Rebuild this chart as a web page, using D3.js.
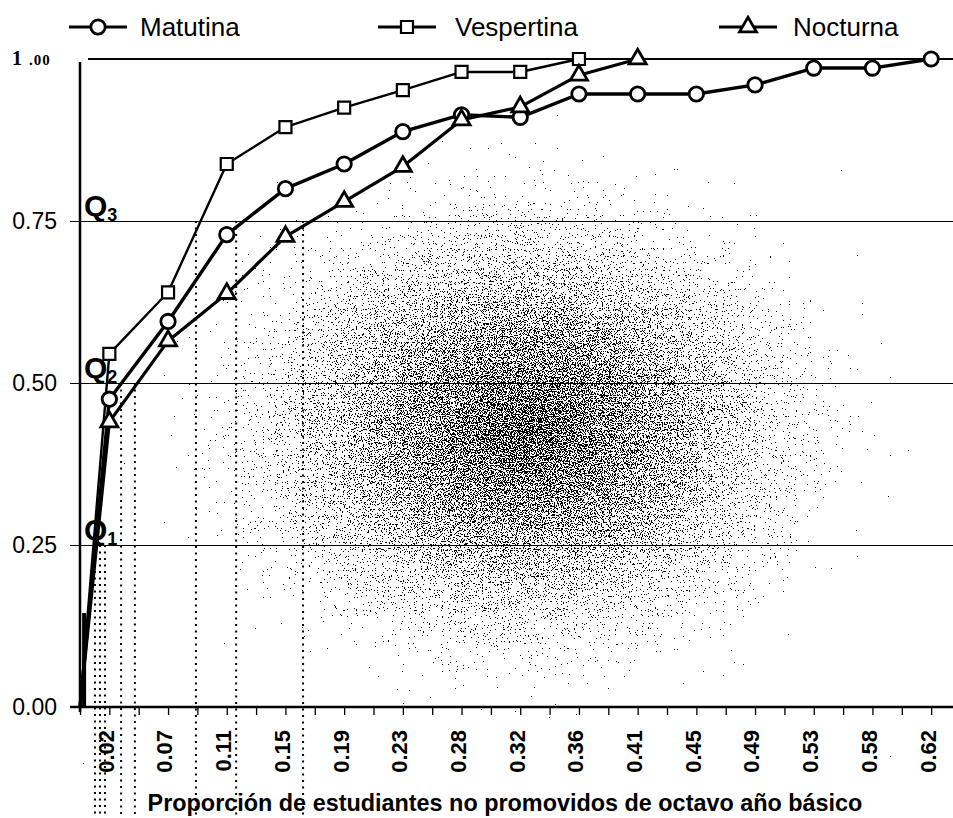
<!DOCTYPE html>
<html>
<head>
<meta charset="utf-8">
<script src="https://cdn.jsdelivr.net/npm/d3@7"></script>
<style>
  html, body { margin: 0; padding: 0; background: #fff; }
  svg { display: block; }
  text { font-family: "Liberation Sans", Arial, sans-serif; }
</style>
</head>
<body>
<div id="chart"></div>
<script>
// ---------- DATA ----------
const xLabels = ["0.02","0.07","0.11","0.15","0.19","0.23","0.28","0.32","0.36","0.41","0.45","0.49","0.53","0.58","0.62"];
// first value = origin (0), then one value per x label
const matutina   = [0, 0.475, 0.595, 0.729, 0.80, 0.838, 0.888, 0.914, 0.91, 0.946, 0.946, 0.946, 0.96, 0.986, 0.986, 1.0];
const vespertina = [0, 0.545, 0.64, 0.838, 0.895, 0.925, 0.952, 0.98, 0.98, 1.0];
const nocturna   = [0, 0.44, 0.565, 0.638, 0.726, 0.78, 0.834, 0.906, 0.926, 0.975, 1.0];
const seriesNames = ["Matutina", "Vespertina", "Nocturna"];
const yTicks = [0, 0.25, 0.5, 0.75, 1.0];
const yTickLabels = ["0.00", "0.25", "0.50", "0.75", "1 .00"];
// quartile reference lines (positions in x-tick units) and their levels
const quartileLevels = [0.25, 0.5, 0.75];
const quartileNames = ["1", "2", "3"];
const q1X = [0.51, 0.68, 0.85];
const q2X = [1.40, 1.87];
const q3X = [3.95, 5.32, 7.6];

// ---------- LAYOUT ----------
const W = 953, H = 818;
const svg = d3.select("#chart").append("svg").attr("width", W).attr("height", H);
svg.append("rect").attr("width", W).attr("height", H).attr("fill", "#fff");

const x = d3.scaleLinear().domain([0, 30]).range([80, 80 + 30 * 29.35]);
const y = d3.scaleLinear().domain([0, 1]).range([707, 59]);
const idx = k => (k === 0 ? 0 : 2 * k - 1);

// stippled background shading (scanned paper)
const defs = svg.append("defs");
const rg = defs.append("radialGradient").attr("id", "shade")
  .attr("cx", 0.5).attr("cy", 0.5).attr("r", 0.5);
[[0, 1], [0.3, 0.8], [0.6, 0.5], [0.85, 0.2], [1, 0]].forEach(([o, a]) => {
  rg.append("stop").attr("offset", o).attr("stop-color", "#000").attr("stop-opacity", a);
});
const f = defs.append("filter").attr("id", "stip")
  .attr("filterUnits", "userSpaceOnUse").attr("x", 0).attr("y", 0).attr("width", W).attr("height", H)
  .attr("color-interpolation-filters", "sRGB");
f.append("feTurbulence").attr("type", "fractalNoise").attr("baseFrequency", 0.85)
  .attr("numOctaves", 2).attr("seed", 7).attr("result", "n");
f.append("feColorMatrix").attr("in", "n").attr("type", "matrix")
  .attr("values", "0 0 0 0 0  0 0 0 0 0  0 0 0 0 0  1 0 0 0 0").attr("result", "na");
f.append("feComposite").attr("in", "SourceAlpha").attr("in2", "na").attr("operator", "arithmetic")
  .attr("k1", 0).attr("k2", 0.45).attr("k3", 1).attr("k4", -0.41).attr("result", "c");
const ct = f.append("feComponentTransfer").attr("in", "c");
ct.append("feFuncA").attr("type", "discrete").attr("tableValues", "0 1");
svg.append("ellipse").attr("cx", 525).attr("cy", 430).attr("rx", 420).attr("ry", 330)
  .attr("fill", "url(#shade)").attr("filter", "url(#stip)");

// grid lines
const grid = svg.append("g").attr("shape-rendering", "crispEdges");
[0.25, 0.5, 0.75].forEach(v => {
  grid.append("line").attr("x1", 70).attr("x2", W).attr("y1", Math.round(y(v)) + 0.5).attr("y2", Math.round(y(v)) + 0.5)
    .attr("stroke", "#000").attr("stroke-width", 1);
});
grid.append("line").attr("x1", 88).attr("x2", W).attr("y1", y(1)).attr("y2", y(1))
  .attr("stroke", "#000").attr("stroke-width", 2);

// quartile dotted verticals
const dot = svg.append("g").attr("stroke", "#000").attr("stroke-width", 2)
  .attr("stroke-dasharray", "2,4.5").attr("fill", "none");
[[q1X, 0.25], [q2X, 0.5], [q3X, 0.75]].forEach(([arr, lv]) => {
  arr.forEach(v => {
    dot.append("line").attr("x1", x(v)).attr("x2", x(v)).attr("y1", y(lv)).attr("y2", H);
  });
});

// axes
svg.append("line").attr("x1", 80).attr("x2", 80).attr("y1", 62).attr("y2", 712)
  .attr("stroke", "#000").attr("stroke-width", 2.5);
svg.append("line").attr("x1", 70).attr("x2", W).attr("y1", y(0)).attr("y2", y(0))
  .attr("stroke", "#000").attr("stroke-width", 2.6);

const xAxis = d3.axisBottom(x)
  .tickValues(d3.range(0, 30))
  .tickSize(8)
  .tickFormat(i => (i % 2 === 1 ? xLabels[(i - 1) / 2] : ""));
const gx = svg.append("g").attr("transform", `translate(0,${y(0)})`).call(xAxis)
  .attr("font-size", null).attr("font-family", null);
gx.select(".domain").remove();
gx.selectAll(".tick line").attr("stroke", "#000").attr("stroke-width", 1.3);
gx.selectAll(".tick text")
  .attr("transform", "rotate(-90)")
  .attr("text-anchor", "end")
  .attr("x", -23).attr("y", -4).attr("dy", "0.36em")
  .style("font-family", "'Liberation Sans', Arial, sans-serif")
  .style("font-weight", "bold").style("font-size", "22px").attr("fill", "#000");

// y labels
const yl = svg.append("g");
yTicks.forEach((v, i) => {
  if (i === yTicks.length - 1) {
    const t = yl.append("text").attr("x", 12).attr("y", y(v) + 6)
      .style("font-family", "'Liberation Serif', 'Times New Roman', serif")
      .style("font-weight", "bold").attr("fill", "#000");
    t.append("tspan").style("font-size", "20px").text("1");
    t.append("tspan").style("font-size", "15px").attr("dx", 7).attr("letter-spacing", 1).text(".00");
  } else {
    yl.append("text").attr("x", 57).attr("y", y(v)).attr("dy", "0.36em")
      .attr("text-anchor", "end").style("font-size", "23px").attr("fill", "#000")
      .text(yTickLabels[i]);
  }
});

// Q labels
quartileLevels.forEach((lv, i) => {
  const t = svg.append("text").attr("x", 84).attr("y", y(lv) - 5)
    .style("font-weight", "bold").attr("fill", "#000");
  t.append("tspan").style("font-size", "30px").text("Q");
  t.append("tspan").style("font-size", "18px").attr("dy", 5).text(quartileNames[i]);
});

// small thick bar near origin
svg.append("line").attr("x1", x(0.14)).attr("x2", x(0.14)).attr("y1", y(0)).attr("y2", y(0.145))
  .attr("stroke", "#000").attr("stroke-width", 4);

// series
const line = d3.line().x((d, k) => x(idx(k))).y(d => y(d));
const allSeries = [
  { name: seriesNames[0], values: matutina, width: 3.4, shape: "circle" },
  { name: seriesNames[1], values: vespertina, width: 2.4, shape: "square" },
  { name: seriesNames[2], values: nocturna, width: 3.2, shape: "triangle" }
];
const symGen = {
  circle: d3.symbol().type(d3.symbolCircle).size(Math.PI * 7.2 * 7.2),
  square: d3.symbol().type(d3.symbolSquare).size(12 * 12),
  triangle: d3.symbol().type(d3.symbolTriangle).size(125)
};
allSeries.forEach(s => {
  svg.append("path").datum(s.values).attr("d", line)
    .attr("fill", "none").attr("stroke", "#000").attr("stroke-width", s.width)
    .attr("stroke-linejoin", "round");
});
allSeries.forEach(s => {
  svg.append("g").selectAll("path").data(s.values.slice(1)).join("path")
    .attr("d", symGen[s.shape])
    .attr("transform", (d, k) => `translate(${x(idx(k + 1))},${y(d)})`)
    .attr("fill", "#fff").attr("stroke", "#000")
    .attr("stroke-width", s.shape === "square" ? 2.2 : 2.8);
});

// legend
const legendPos = [{ lx: 69, tx: 140 }, { lx: 378, tx: 455 }, { lx: 719, tx: 793 }];
allSeries.forEach((s, i) => {
  const g = svg.append("g");
  const p = legendPos[i];
  g.append("line").attr("x1", p.lx).attr("x2", p.lx + 58).attr("y1", 27).attr("y2", 27)
    .attr("stroke", "#000").attr("stroke-width", 2.8);
  g.append("path").attr("d", symGen[s.shape])
    .attr("transform", `translate(${p.lx + 29},27)`)
    .attr("fill", "#fff").attr("stroke", "#000").attr("stroke-width", s.shape === "square" ? 2.2 : 2.8);
  g.append("text").attr("x", p.tx).attr("y", 36).style("font-size", "26px").attr("fill", "#000").text(s.name);
});

// x-axis title
svg.append("text").attr("x", 505).attr("y", 811).attr("text-anchor", "middle")
  .style("font-weight", "bold").style("font-size", "23.4px").attr("fill", "#000")
  .text("Proporción de estudiantes no promovidos de octavo año básico");
</script>
</body>
</html>
